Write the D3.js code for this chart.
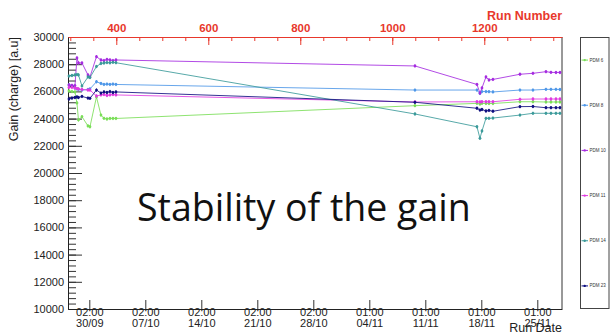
<!DOCTYPE html>
<html><head><meta charset="utf-8">
<script src="https://cdn.jsdelivr.net/npm/d3@7"></script>
<style>
html,body{margin:0;padding:0;background:#fff;}
svg{display:block;}
</style></head><body>
<svg id="chart" width="611" height="332"></svg>
<script>
// Acquisition time of each run (UTC)
const runDates = [
  "2018-09-27T11:00Z","2018-09-27T20:00Z","2018-09-28T05:00Z","2018-09-28T11:00Z","2018-09-28T15:30Z",
  "2018-09-29T02:00Z","2018-09-29T20:00Z","2018-09-30T02:00Z","2018-09-30T21:30Z","2018-10-01T11:00Z",
  "2018-10-01T20:00Z","2018-10-02T05:00Z","2018-10-02T14:00Z","2018-10-02T23:00Z","2018-10-03T08:00Z",
  "2018-11-09T17:00Z","2018-11-17T11:00Z","2018-11-17T20:00Z","2018-11-18T02:00Z","2018-11-18T14:00Z",
  "2018-11-18T23:00Z","2018-11-19T11:00Z","2018-11-22T20:00Z","2018-11-24T11:00Z","2018-11-26T02:00Z",
  "2018-11-26T17:00Z","2018-11-27T08:00Z","2018-11-27T20:00Z"
];

// Gain per PDM (charge, a.u.)
const pdm6  = [26030,25990,25960,25150,23900,24140,23460,23400,25590,24260,24020,23970,24010,24010,24010,24950,25120,25070,25120,25110,25110,25110,25240,25240,25220,25220,25220,25220];
const pdm8  = [26470,26400,26250,26180,26140,26100,26140,26180,26710,26580,26510,26540,26510,26540,26510,26100,26100,25850,25990,25990,25980,25960,26100,26100,26150,26150,26150,26140];
const pdm10 = [26470,26450,26430,28460,28090,28090,27210,27060,28550,28310,28270,28350,28310,28270,28310,27870,26510,25880,26250,27060,26840,26880,27260,27330,27450,27400,27390,27390];
const pdm11 = [26290,26290,26250,26210,26180,26140,26100,26100,25660,25740,25770,25700,25740,25770,25740,25220,25240,25220,25240,25240,25240,25240,25420,25440,25440,25440,25440,25440];
const pdm14 = [27130,27170,27210,27240,27210,26400,27060,27020,27830,28050,28090,28120,28100,28140,28110,24340,23400,22550,23090,24020,24020,24040,24260,24390,24390,24390,24390,24390];
const pdm23 = [25440,25510,25550,25590,25550,25630,25510,25490,26100,25880,25960,25920,25990,25920,25960,25200,24760,24630,24670,24560,24600,24540,24880,24890,24800,24800,24800,24800];
const gainError = 120;

const seriesNames  = ["PDM 6","PDM 8","PDM 10","PDM 11","PDM 14","PDM 23"];
const seriesValues = [pdm6, pdm8, pdm10, pdm11, pdm14, pdm23];
const seriesColors = ["#7ade58","#4e97e8","#a52be0","#e03be0","#3b9a9a","#101080"];

// Axis definitions
const dateDomain = ["2018-09-27T08:06Z","2018-11-28T02:06Z"];
const gainDomain = [10000, 30000];
const gainTicks = d3.range(10000, 30001, 2000);
const gainMinorTicks = d3.range(10000, 30001, 400);
const dateTicks = ["2018-09-30T00:00Z","2018-10-07T00:00Z","2018-10-14T00:00Z","2018-10-21T00:00Z","2018-10-28T00:00Z",
                   "2018-11-04T00:00Z","2018-11-11T00:00Z","2018-11-18T00:00Z","2018-11-25T00:00Z"];
const dateTickTimes = ["02:00","02:00","02:00","02:00","02:00","01:00","01:00","01:00","01:00"];
const dateTickDays  = ["30/09","07/10","14/10","21/10","28/10","04/11","11/11","18/11","25/11"];
const runDomain = [295, 1369];
const runTicks = [400, 600, 800, 1000, 1200];
const runMinorTicks = d3.range(300, 1369, 50);

const svg = d3.select("#chart");
const frame = {left: 68, right: 562, top: 37, bottom: 309};
const axisFont = "'Liberation Sans', Arial, Helvetica, sans-serif";
const red = "#e8382c";

const x = d3.scaleUtc().domain(dateDomain.map(d => new Date(d))).range([frame.left, frame.right]);
const y = d3.scaleLinear().domain(gainDomain).range([frame.bottom, frame.top]);
const xRun = d3.scaleLinear().domain(runDomain).range([frame.left, frame.right]);

// frame right edge
svg.append("line").attr("x1", frame.right).attr("x2", frame.right)
  .attr("y1", frame.top).attr("y2", frame.bottom).attr("stroke", "#333").attr("stroke-width", 1);

// Left gain axis (ticks drawn inward)
const gMinorY = svg.append("g").attr("transform", `translate(${frame.left},0)`)
  .call(d3.axisLeft(y).tickValues(gainMinorTicks).tickSize(-8).tickSizeOuter(0).tickFormat(""));
gMinorY.select(".domain").remove();
const gY = svg.append("g").attr("transform", `translate(${frame.left},0)`)
  .call(d3.axisLeft(y).tickValues(gainTicks).tickSize(-14).tickSizeOuter(0).tickPadding(4).tickFormat(d3.format("d")));
gY.selectAll("text").attr("font-family", axisFont).attr("font-size", 11).attr("fill", "#222");
svg.selectAll(".tick line").attr("stroke", "#333");
gY.select(".domain").attr("stroke", "#222");

// Bottom date axis
const gX = svg.append("g").attr("transform", `translate(0,${frame.bottom})`)
  .call(d3.axisBottom(x).tickValues(dateTicks.map(d => new Date(d))).tickSize(-9).tickSizeOuter(0).tickPadding(-1)
    .tickFormat((d, i) => dateTickTimes[i]));
gX.selectAll(".tick line").attr("stroke", "#333");
gX.select(".domain").attr("stroke", "#222");
gX.selectAll(".tick text").attr("font-family", axisFont).attr("font-size", 11).attr("fill", "#222");
gX.selectAll(".tick").append("text")
  .attr("y", 18).attr("text-anchor", "middle").attr("fill", "#222")
  .attr("font-family", axisFont).attr("font-size", 11)
  .text((d, i) => dateTickDays[i]);

// Top run-number axis
const gRunMinor = svg.append("g").attr("transform", `translate(0,${frame.top})`)
  .call(d3.axisTop(xRun).tickValues(runMinorTicks).tickSize(-4).tickSizeOuter(0).tickFormat(""));
gRunMinor.select(".domain").remove();
gRunMinor.selectAll(".tick line").attr("stroke", red);
const gRun = svg.append("g").attr("transform", `translate(0,${frame.top})`)
  .call(d3.axisTop(xRun).tickValues(runTicks).tickSize(-8).tickSizeOuter(0).tickPadding(5).tickFormat(d3.format("d")));
gRun.select(".domain").attr("stroke", red);
gRun.selectAll(".tick line").attr("stroke", red);
gRun.selectAll(".tick text").attr("font-family", axisFont).attr("font-size", 11.5)
  .attr("font-weight", "bold").attr("fill", red);

svg.append("text").attr("x", frame.right).attr("y", 20).attr("text-anchor", "end")
  .attr("font-family", axisFont).attr("font-size", 12.5).attr("font-weight", "bold").attr("fill", red)
  .text("Run Number");

// Axis titles
svg.append("text").attr("transform", `translate(18,${frame.top}) rotate(-90)`).attr("text-anchor", "end")
  .attr("font-family", axisFont).attr("font-size", 12.5).attr("fill", "#222")
  .text("Gain (charge) [a.u]");
svg.append("text").attr("x", frame.right).attr("y", 332).attr("text-anchor", "end")
  .attr("font-family", axisFont).attr("font-size", 12.5).attr("fill", "#222")
  .text("Run Date");

// Series
const dates = runDates.map(d => new Date(d));
const line = d3.line().x(d => x(d[0])).y(d => y(d[1]));
seriesValues.forEach((vals, s) => {
  const pts = dates.map((d, i) => [d, vals[i]]);
  const g = svg.append("g");
  g.append("path").datum(pts).attr("d", line).attr("fill", "none")
    .attr("stroke", seriesColors[s]).attr("stroke-width", 1).attr("stroke-opacity", 0.85);
  g.selectAll("line.err").data(pts).join("line").attr("class", "err")
    .attr("x1", d => x(d[0])).attr("x2", d => x(d[0]))
    .attr("y1", d => y(d[1] - gainError)).attr("y2", d => y(d[1] + gainError))
    .attr("stroke", seriesColors[s]).attr("stroke-width", 1);
  g.selectAll("circle").data(pts).join("circle")
    .attr("cx", d => x(d[0])).attr("cy", d => y(d[1])).attr("r", 1.4)
    .attr("fill", seriesColors[s]);
});

// Legend
const legend = {x: 580.5, y: 37.5, w: 28.5, h: 271};
svg.append("rect").attr("x", legend.x).attr("y", legend.y).attr("width", legend.w).attr("height", legend.h)
  .attr("fill", "#fff").attr("stroke", "#444").attr("stroke-width", 1);
const ly = d3.scalePoint().domain(seriesNames).range([legend.y, legend.y + legend.h]).padding(0.5);
const le = svg.append("g").selectAll("g").data(seriesNames).join("g")
  .attr("transform", d => `translate(${legend.x},${ly(d)})`);
le.append("line").attr("x1", 1).attr("x2", 7.5).attr("stroke", (d, i) => seriesColors[i]).attr("stroke-width", 1);
le.append("circle").attr("cx", 4.2).attr("r", 1.2).attr("fill", (d, i) => seriesColors[i]);
le.append("text").attr("x", 9).attr("dy", "0.35em").attr("font-family", axisFont).attr("font-size", 4.5)
  .attr("fill", "#333").text(d => d);

// Slide caption
svg.append("text").attr("x", 137).attr("y", 221)
  .attr("font-family", "'Open Sans', sans-serif").attr("font-size", 37.5).attr("fill", "#111")
  .text("Stability of the gain");
</script>
</body></html>
